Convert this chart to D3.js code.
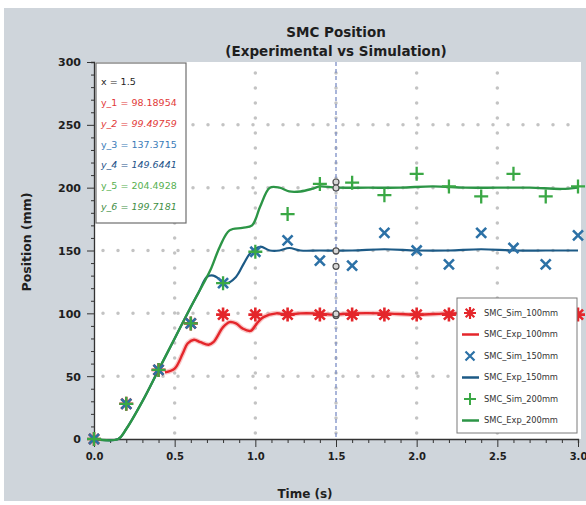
<!DOCTYPE html>
<html>
<head>
<meta charset="utf-8">
<script src="https://cdn.jsdelivr.net/npm/d3@7"></script>
<style>
  body { margin: 0; background: #fff; }
  svg { display: block; }
  text { font-family: "DejaVu Sans", sans-serif; }
</style>
</head>
<body>
<div class="chart"></div>
<script>
// sampled times of simulation markers
const sim_time = [0, 0.2, 0.4, 0.6, 0.8, 1.0, 1.2, 1.4, 1.6, 1.8, 2.0, 2.2, 2.4, 2.6, 2.8, 3.0];
const sim_100 = [0, 28, 55, 92, 99, 99, 99, 99, 99, 99, 99, 99, 99, 99, 99, 99];
const sim_150 = [0, 28, 55, 92, 124, 149, 158, 142, 138, 164, 150, 139, 164, 152, 139, 162];
const sim_200 = [0, 28, 55, 92, 124, 149, 179, 203, 204, 194, 211, 201, 193, 211, 193, 201];

// experimental curves
const exp_100_time = [0.44, 0.5, 0.55, 0.58, 0.62, 0.66, 0.71, 0.74, 0.8, 0.84, 0.88, 0.92, 0.97, 1.01, 1.05, 1.13, 1.19, 1.28, 1.36, 1.48, 1.6, 1.8, 2.0, 2.2, 2.4, 2.6, 2.8, 3.0];
const exp_100 = [53, 56, 68, 76, 79, 77, 75, 77, 89, 93, 92, 88, 86, 92, 97, 100, 99, 100, 100, 99, 100, 100, 99, 100, 100, 99, 100, 100];

const exp_150_time = [0, 0.15, 0.2, 0.3, 0.4, 0.5, 0.6, 0.65, 0.7, 0.74, 0.78, 0.82, 0.88, 0.93, 0.97, 1.03, 1.09, 1.15, 1.21, 1.28, 1.4, 1.6, 1.8, 2.0, 2.2, 2.4, 2.6, 2.8, 3.0];
const exp_150 = [0, 0, 8, 30, 55, 80, 105, 117, 129, 130, 127, 124, 129, 140, 148, 153, 150, 150, 152, 150, 150, 150, 151, 150, 150, 151, 150, 150, 150];

const exp_200_time = [0, 0.15, 0.2, 0.3, 0.4, 0.5, 0.6, 0.65, 0.72, 0.78, 0.84, 0.92, 0.98, 1.03, 1.09, 1.15, 1.21, 1.28, 1.35, 1.4, 1.5, 1.7, 1.9, 2.1, 2.3, 2.5, 2.7, 2.9, 3.0];
const exp_200 = [0, 0, 8, 30, 55, 80, 105, 117, 134, 153, 166, 168, 170, 185, 200, 200, 197, 197, 199, 201, 200, 200, 200, 201, 200, 200, 200, 199, 200];

// data cursor at x = 1.5
const cursor_x = 1.5;
const cursor_values = [98.18954, 99.49759, 137.3715, 149.6441, 204.4928, 199.7181];
const cursor_labels = ["y_1", "y_2", "y_3", "y_4", "y_5", "y_6"];

const legend_labels = ["SMC_Sim_100mm", "SMC_Exp_100mm", "SMC_Sim_150mm", "SMC_Exp_150mm", "SMC_Sim_200mm", "SMC_Exp_200mm"];
const x_ticks = [0, 0.5, 1.0, 1.5, 2.0, 2.5, 3.0];
const y_ticks = [0, 50, 100, 150, 200, 250, 300];

const RED = "#e4262b", BLUE_SIM = "#2c71a6", BLUE_EXP = "#1c5a86", GREEN_SIM = "#3aa845", GREEN_EXP = "#2c9546";
const INK = "#1e1e1e";

const W = 586, H = 505;
const svg = d3.select(".chart").append("svg").attr("width", W).attr("height", H);

// gray figure background
svg.append("rect").attr("x", 4).attr("y", 8).attr("width", W - 4).attr("height", H - 12).attr("fill", "#cfd5db");

const x_axis = d3.scaleLinear().domain([0, 3]).range([94, 578]);
const y_axis = d3.scaleLinear().domain([0, 300]).range([439, 62]);

// plot area
svg.append("rect")
  .attr("x", x_axis(0)).attr("y", y_axis(300))
  .attr("width", 581 - x_axis(0)).attr("height", y_axis(0) - y_axis(300))
  .attr("fill", "#fff");

// dotted grid
const grid = svg.append("g").attr("stroke", "#c3c3c3").attr("stroke-width", 3.5)
  .attr("stroke-linecap", "round").attr("stroke-dasharray", "0,15");
grid.selectAll("line.v").data(x_ticks.filter(d => d > 0 && d < 3)).enter().append("line")
  .attr("x1", d => x_axis(d)).attr("x2", d => x_axis(d))
  .attr("y1", y_axis(0) - 6).attr("y2", y_axis(300));
grid.selectAll("line.h").data(y_ticks.filter(d => d > 0 && d < 300)).enter().append("line")
  .attr("x1", x_axis(0) + 9).attr("x2", 581)
  .attr("y1", d => y_axis(d)).attr("y2", d => y_axis(d));

// cursor line
svg.append("line")
  .attr("x1", x_axis(cursor_x)).attr("x2", x_axis(cursor_x))
  .attr("y1", y_axis(300)).attr("y2", y_axis(0))
  .attr("stroke", "#7c8ec6").attr("stroke-width", 1.3).attr("stroke-dasharray", "4,3");

// axes
const yaxis = svg.append("g").attr("transform", `translate(${x_axis(0)},0)`);
yaxis.call(d3.axisLeft(y_axis).tickValues(d3.range(0, 301, 10)).tickSize(3).tickFormat(""));
yaxis.call(g => g.selectAll(".tick").filter(d => d % 50 === 0).select("line").attr("x2", -7));
yaxis.selectAll(".tick").filter(d => d % 50 === 0).append("text")
  .attr("x", -13).attr("dy", "0.35em").attr("text-anchor", "end")
  .style("font-size", "11px").style("font-weight", "bold").style("fill", INK)
  .text(d => d);
yaxis.select(".domain").attr("stroke", "#333").attr("stroke-width", 1.3);

const xaxis = svg.append("g").attr("transform", `translate(0,${y_axis(0)})`);
xaxis.call(d3.axisBottom(x_axis).tickValues(d3.range(0, 31).map(d => d / 10)).tickSize(4).tickFormat(""));
xaxis.call(g => g.selectAll(".tick").filter(d => Math.abs(d * 2 - Math.round(d * 2)) < 1e-6).select("line").attr("y2", 8));
xaxis.selectAll(".tick").filter(d => Math.abs(d * 2 - Math.round(d * 2)) < 1e-6).append("text")
  .attr("y", 21).attr("text-anchor", "middle")
  .style("font-size", "10px").style("font-weight", "bold").style("fill", INK)
  .text(d => d.toFixed(1));
xaxis.select(".domain").attr("stroke", "#333").attr("stroke-width", 1.3);
svg.selectAll(".tick line").attr("stroke", "#333");

// titles
const title_style = sel => sel.style("font-weight", "bold").style("fill", INK).attr("text-anchor", "middle");
svg.append("text").attr("x", 336).attr("y", 37).style("font-size", "13.5px").call(title_style).text("SMC Position");
svg.append("text").attr("x", 336).attr("y", 56).style("font-size", "13.5px").call(title_style).text("(Experimental vs Simulation)");
svg.append("text").attr("x", 305).attr("y", 498).style("font-size", "12px").call(title_style).text("Time (s)");
svg.append("text").attr("transform", "translate(31,242) rotate(-90)").style("font-size", "12.5px")
  .call(title_style).text("Position (mm)");

// experimental lines
const line = d3.line().x(d => x_axis(d[0])).y(d => y_axis(d[1])).curve(d3.curveCatmullRom);
const zip = (t, v) => t.map((d, i) => [d, v[i]]);

const lines = svg.append("g").attr("fill", "none").attr("stroke-linejoin", "round");
lines.append("path").attr("d", line(zip(exp_100_time, exp_100)))
  .attr("stroke", "#f5a3a3").attr("stroke-width", 5).attr("opacity", 0.6);
lines.append("path").attr("d", line(zip(exp_100_time, exp_100)))
  .attr("stroke", RED).attr("stroke-width", 2.4);
lines.append("path").attr("d", line(zip(exp_150_time, exp_150)))
  .attr("stroke", BLUE_EXP).attr("stroke-width", 2.2);
lines.append("path").attr("d", line(zip(exp_200_time, exp_200)))
  .attr("stroke", GREEN_EXP).attr("stroke-width", 2.4);

// marker shapes
function star(g, r) {
  const a = r * 0.72;
  g.append("path").attr("d", `M${-r},0H${r}M0,${-r}V${r}M${-a},${-a}L${a},${a}M${-a},${a}L${a},${-a}`);
}
function cross(g, r) {
  g.append("path").attr("d", `M${-r},${-r}L${r},${r}M${-r},${r}L${r},${-r}`);
}
function plus(g, r) {
  g.append("path").attr("d", `M${-r},0H${r}M0,${-r}V${r}`);
}

function markers(values, color, shape, size, width) {
  const g = svg.append("g").attr("fill", "none").attr("stroke", color).attr("stroke-width", width);
  g.selectAll("g").data(zip(sim_time, values)).enter().append("g")
    .attr("transform", d => `translate(${x_axis(d[0])},${y_axis(d[1])})`)
    .each(function() { shape(d3.select(this), size); });
}
markers(sim_100, RED, star, 7, 2.6);
markers(sim_150, BLUE_SIM, cross, 5, 2.6);
markers(sim_200, GREEN_SIM, plus, 7, 2.3);

// data tips at the cursor
svg.append("g").selectAll("circle").data(cursor_values).enter().append("circle")
  .attr("cx", x_axis(cursor_x)).attr("cy", d => y_axis(d)).attr("r", 3)
  .attr("fill", "#d8d8d8").attr("stroke", "#505050").attr("stroke-width", 1.2);

// data cursor readout box
const readout_colors = ["#e23a3a", "#e23a3a", "#3a7bb8", "#25548a", "#55b04f", "#3f8f46"];
const box = svg.append("g").attr("transform", "translate(96,63)");
box.append("rect").attr("width", 90).attr("height", 160).attr("fill", "#fff")
  .attr("stroke", "#6e6e6e").attr("stroke-width", 1.2);
box.append("text").attr("x", 5).attr("y", 22).style("font-size", "9.5px").style("fill", INK).text(`x    = ${cursor_x}`);
box.selectAll("text.v").data(cursor_values).enter().append("text")
  .attr("x", 5).attr("y", (d, i) => 43 + i * 20.8)
  .style("font-size", "9.5px")
  .style("font-style", (d, i) => i % 2 === 1 ? "italic" : "normal")
  .style("fill", (d, i) => readout_colors[i])
  .text((d, i) => `${cursor_labels[i]} = ${d}`);

// legend
const legend = svg.append("g").attr("transform", "translate(457,298)");
legend.append("rect").attr("width", 120).attr("height", 135).attr("fill", "#fff")
  .attr("stroke", "#7a7a7a").attr("stroke-width", 1);
const legend_items = [
  { type: "m", shape: star, color: RED, size: 6, width: 2.2 },
  { type: "l", color: RED },
  { type: "m", shape: cross, color: BLUE_SIM, size: 4.5, width: 2.2 },
  { type: "l", color: BLUE_EXP },
  { type: "m", shape: plus, color: GREEN_SIM, size: 6, width: 2 },
  { type: "l", color: GREEN_EXP },
];
legend_items.forEach((item, i) => {
  const g = legend.append("g").attr("transform", `translate(0,${15 + i * 21.5})`);
  if (item.type === "m") {
    const m = g.append("g").attr("transform", "translate(13,0)")
      .attr("fill", "none").attr("stroke", item.color).attr("stroke-width", item.width);
    item.shape(m, item.size);
  } else {
    g.append("line").attr("x1", 5).attr("x2", 22).attr("stroke", item.color).attr("stroke-width", 2.5);
  }
  g.append("text").attr("x", 27).attr("dy", "0.35em").style("font-size", "8.3px").style("fill", "#333")
    .text(legend_labels[i]);
});
</script>
</body>
</html>
